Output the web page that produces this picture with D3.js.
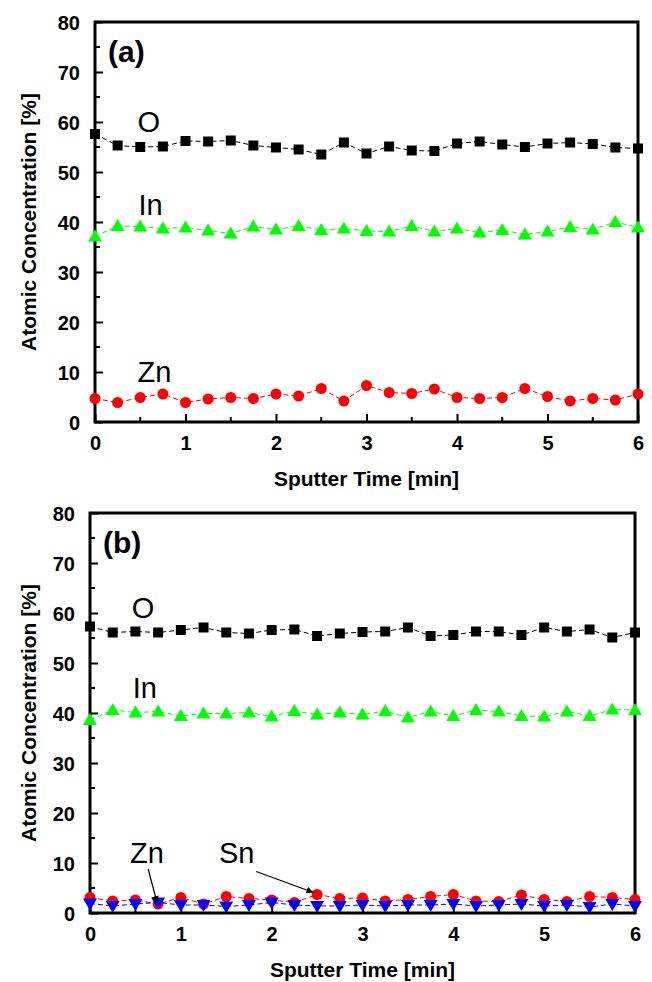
<!DOCTYPE html>
<html>
<head>
<meta charset="utf-8">
<script src="https://cdn.jsdelivr.net/npm/d3@7"></script>
<style>
  html, body { margin: 0; padding: 0; background: #fff; }
  svg { display: block; }
  text { font-family: "Liberation Sans", Arial, sans-serif; }
</style>
</head>
<body>
<div id="chart"></div>
<script>
/* ---- Data ---- */
const time = [0, 0.25, 0.5, 0.75, 1, 1.25, 1.5, 1.75, 2, 2.25, 2.5, 2.75, 3,
              3.25, 3.5, 3.75, 4, 4.25, 4.5, 4.75, 5, 5.25, 5.5, 5.75, 6];

const oA  = [57.6, 55.3, 55.0, 55.1, 56.2, 56.1, 56.3, 55.3, 54.9, 54.5, 53.5, 55.9, 53.7,
             55.1, 54.3, 54.2, 55.7, 56.1, 55.5, 55.0, 55.7, 55.9, 55.6, 54.9, 54.7];
const inA = [37.1, 39.2, 39.1, 38.7, 38.9, 38.3, 37.7, 39.1, 38.5, 39.2, 38.4, 38.7, 38.2,
             38.1, 39.2, 38.1, 38.7, 37.9, 38.4, 37.5, 38.1, 39.0, 38.5, 40.0, 38.9];
const znA = [4.7, 3.9, 4.9, 5.6, 3.9, 4.6, 4.9, 4.7, 5.6, 5.2, 6.7, 4.2, 7.3,
             5.9, 5.7, 6.6, 4.9, 4.7, 4.9, 6.7, 5.1, 4.2, 4.7, 4.4, 5.6];

const oB  = [57.3, 56.1, 56.3, 56.1, 56.6, 57.1, 56.1, 55.9, 56.6, 56.7, 55.4, 55.9, 56.2,
             56.3, 57.1, 55.4, 55.6, 56.3, 56.3, 55.6, 57.1, 56.3, 56.7, 55.1, 56.1];
const inB = [38.6, 40.6, 40.1, 40.3, 39.4, 39.9, 39.9, 40.1, 39.3, 40.4, 39.7, 40.1, 39.7,
             40.4, 39.1, 40.3, 39.4, 40.6, 40.3, 39.4, 39.3, 40.3, 39.4, 40.7, 40.6];
const snB = [3.1, 2.4, 2.6, 1.8, 3.1, 1.8, 3.3, 2.9, 2.6, 2.1, 3.7, 2.9, 3.0,
             2.4, 2.7, 3.3, 3.7, 2.4, 2.3, 3.6, 2.7, 2.3, 3.3, 3.1, 2.7];
const znB = [1.9, 1.4, 1.8, 2.1, 1.6, 1.6, 1.3, 1.6, 2.1, 1.6, 1.4, 1.4, 1.6,
             1.4, 1.6, 1.6, 1.8, 1.4, 1.6, 1.8, 1.4, 1.6, 1.2, 1.8, 1.4];

const yTicks = [0, 10, 20, 30, 40, 50, 60, 70, 80];
const xTicks = [0, 1, 2, 3, 4, 5, 6];

const W = 652, H = 982;
const FONT = '"Liberation Sans", Arial, sans-serif';

const svg = d3.select('#chart').append('svg')
  .attr('width', W).attr('height', H);

// arrow head marker
svg.append('defs').append('marker')
  .attr('id', 'arrow')
  .attr('viewBox', '0 0 10 10')
  .attr('refX', 10).attr('refY', 5)
  .attr('markerWidth', 7).attr('markerHeight', 7)
  .attr('markerUnits', 'userSpaceOnUse')
  .attr('orient', 'auto')
  .append('path').attr('d', 'M0,0 L10,5 L0,10 z').attr('fill', '#000');

const symSquare = d3.symbol().type(d3.symbolSquare).size(100);
const symCircle = d3.symbol().type(d3.symbolCircle).size(95);
const symTri    = d3.symbol().type(d3.symbolTriangle).size(85);

/* ---- One panel ---- */
function panel(box, series, tag, labels, arrows) {
  const x = d3.scaleLinear().domain([0, 6]).range([box.l, box.r]);
  const y = d3.scaleLinear().domain([0, 80]).range([box.b, box.t]);
  const g = svg.append('g');

  // minor ticks
  const minorX = d3.range(0.5, 6, 1);
  const minorY = d3.range(5, 80, 10);
  g.selectAll('.mx').data(minorX).join('line')
    .attr('x1', d => x(d)).attr('x2', d => x(d))
    .attr('y1', box.b).attr('y2', box.b - 5)
    .attr('stroke', '#000').attr('stroke-width', 2);
  g.selectAll('.my').data(minorY).join('line')
    .attr('x1', box.l).attr('x2', box.l + 5)
    .attr('y1', d => y(d)).attr('y2', d => y(d))
    .attr('stroke', '#000').attr('stroke-width', 2);

  // major ticks + labels
  const xAxis = d3.axisBottom(x).tickValues(xTicks).tickFormat(d3.format('d'))
    .tickSizeInner(-8).tickSizeOuter(0).tickPadding(14);
  const yAxis = d3.axisLeft(y).tickValues(yTicks).tickFormat(d3.format('d'))
    .tickSizeInner(-8).tickSizeOuter(0).tickPadding(15);
  const gx = g.append('g').attr('transform', `translate(0,${box.b})`).call(xAxis);
  const gy = g.append('g').attr('transform', `translate(${box.l},0)`).call(yAxis);
  [gx, gy].forEach(a => {
    a.select('.domain').remove();
    a.selectAll('line').attr('stroke', '#000').attr('stroke-width', 2);
    a.selectAll('text').attr('fill', '#000')
      .style('font-family', FONT).style('font-size', '20px').style('font-weight', 'bold');
  });
  gy.selectAll('text').attr('dy', '0.36em');

  // frame
  g.append('rect')
    .attr('x', box.l).attr('y', box.t)
    .attr('width', box.r - box.l).attr('height', box.b - box.t)
    .attr('fill', 'none').attr('stroke', '#000').attr('stroke-width', 3);

  // series
  series.forEach(s => {
    const pts = time.map((t, i) => [t, s.values[i]]);
    g.append('path')
      .datum(pts)
      .attr('d', d3.line().x(d => x(d[0])).y(d => y(d[1])))
      .attr('fill', 'none')
      .attr('stroke', s.line)
      .attr('stroke-width', 1)
      .attr('stroke-dasharray', '5,3');
    g.selectAll(null).data(pts).join('path')
      .attr('d', s.sym)
      .attr('transform', d => `translate(${x(d[0])},${y(d[1]) + (s.dy || 0)}) rotate(${s.rot || 0})`)
      .attr('fill', s.color);
  });

  // axis titles
  svg.append('text')
    .attr('transform', `translate(28,${(box.t + box.b) / 2}) rotate(-90)`)
    .attr('text-anchor', 'middle')
    .attr('dominant-baseline', 'central')
    .style('font-size', '21px').style('font-weight', 'bold')
    .text('Atomic Concentration [%]');
  svg.append('text')
    .attr('x', (box.l + box.r) / 2).attr('y', box.b + 64)
    .attr('text-anchor', 'middle')
    .style('font-size', '21px').style('font-weight', 'bold')
    .text('Sputter Time [min]');

  // panel tag
  g.append('text')
    .attr('x', box.l + 13).attr('y', box.t + 40)
    .style('font-size', '30px').style('font-weight', 'bold')
    .text(tag);

  // species labels
  labels.forEach(lb => {
    g.append('text')
      .attr('x', x(lb.t)).attr('y', y(lb.v))
      .style('font-size', '29px')
      .text(lb.text);
  });

  // arrows
  arrows.forEach(a => {
    g.append('line')
      .attr('x1', x(a.from[0])).attr('y1', y(a.from[1]))
      .attr('x2', x(a.to[0])).attr('y2', y(a.to[1]))
      .attr('stroke', '#000').attr('stroke-width', 1.2)
      .attr('marker-end', 'url(#arrow)');
  });
}

panel({ l: 95, r: 638, t: 22, b: 422 },
  [
    { values: oA,  color: '#000000', line: '#000000', sym: symSquare },
    { values: inA, color: '#00ff00', line: '#00ff00', sym: symTri, dy: 1 },
    { values: znA, color: '#ff0000', line: '#ff0000', sym: symCircle }
  ],
  '(a)',
  [
    { text: 'O',  t: 0.47, v: 58.0 },
    { text: 'In', t: 0.48, v: 41.4 },
    { text: 'Zn', t: 0.47, v: 8.0 }
  ],
  []);

panel({ l: 90, r: 635, t: 513, b: 913 },
  [
    { values: oB,  color: '#000000', line: '#000000', sym: symSquare },
    { values: inB, color: '#00ff00', line: '#00ff00', sym: symTri, dy: 1 },
    { values: snB, color: '#ff0000', line: '#ff0000', sym: symCircle },
    { values: znB, color: '#0000ff', line: '#0000ff', sym: symTri, rot: 180, dy: -1 }
  ],
  '(b)',
  [
    { text: 'O',  t: 0.46, v: 59.0 },
    { text: 'In', t: 0.47, v: 43.0 },
    { text: 'Zn', t: 0.44, v: 10.0 },
    { text: 'Sn', t: 1.42, v: 10.0 }
  ],
  [
    { from: [0.64, 8.8], to: [0.74, 2.0] },
    { from: [1.83, 8.3], to: [2.46, 4.1] }
  ]);
</script>
</body>
</html>
